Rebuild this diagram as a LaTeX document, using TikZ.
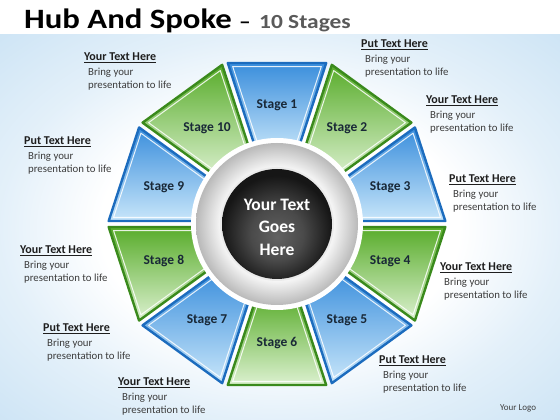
\documentclass[tikz,border=0pt]{standalone}
\usepackage{fontspec}
\setmainfont{Carlito}
\newfontfamily\titlefont[FakeStretch=1.17]{Carlito}
\definecolor{bT}{RGB}{58,142,220}
\definecolor{bB}{RGB}{200,230,250}
\definecolor{bD}{RGB}{28,108,190}
\definecolor{gT}{RGB}{88,172,42}
\definecolor{gB}{RGB}{220,241,208}
\definecolor{gD}{RGB}{58,138,28}
\definecolor{bgblue}{RGB}{205,228,245}
\definecolor{ringout}{RGB}{185,185,185}
\definecolor{hubedge}{RGB}{22,22,22}
\definecolor{hubmid}{RGB}{98,98,98}
\definecolor{labtxt}{RGB}{30,30,30}
\definecolor{bodytxt}{RGB}{60,60,60}
\definecolor{stagetxt}{RGB}{25,40,55}
\definecolor{titlegray}{RGB}{90,90,90}
\pgfdeclareradialshading{ringshade}{\pgfpoint{0bp}{0bp}}{color(0bp)=(white);color(16bp)=(white);color(18bp)=(white!95!black);color(25bp)=(ringout);color(50bp)=(ringout)}
\pgfdeclareradialshading{hubshade}{\pgfpoint{0bp}{-6bp}}{color(0bp)=(hubmid);color(12bp)=(hubmid!75!black);color(25bp)=(hubedge);color(50bp)=(hubedge)}
\pgfdeclareradialshading{bgshade}{\pgfpoint{0bp}{0bp}}{color(0bp)=(white);color(16bp)=(white);color(25bp)=(bgblue!55!white);color(36bp)=(bgblue);color(50bp)=(bgblue)}
\newcommand\lbl[4]{%
  \node[head] (#1h) at (#2,420-#3) {\underline{#4}};
  \node[body] (#1a) at (#2+4,420-#3-15) {Bring your};
  \node[body] (#1b) at (#2+4,420-#3-28) {presentation to life};}
\begin{document}
\begin{tikzpicture}[x=1pt,y=1pt,
  seg/.style={line width=2.4pt,line join=round},
  seginner/.style={draw=white,line width=1pt,line join=round,opacity=0.85},
  stagelbl/.style={font=\fontsize{13.5}{16}\selectfont\bfseries,text=stagetxt,inner sep=0pt},
  hubtxt/.style={font=\fontsize{17.5}{22.5}\selectfont\bfseries,text=white,align=center,inner sep=0pt},
  head/.style={font=\fontsize{12}{14}\selectfont\bfseries,text=labtxt,anchor=base west,inner sep=0pt},
  body/.style={font=\fontsize{10.8}{13}\selectfont,text=bodytxt,anchor=base west,inner sep=0pt},
  ttl/.style={anchor=base west,inner sep=0pt}]
\useasboundingbox (0,0) rectangle (560,420);
\fill[white] (0,0) rectangle (560,420);
\shade[shading=bgshade] (0,0) rectangle (560,385);
% title
\node[ttl,font=\titlefont\fontsize{28}{32}\selectfont\bfseries] (title) at (24,391.7) {Hub And Spoke};
\node[ttl,font=\titlefont\fontsize{20}{24}\selectfont\bfseries] (dash) at (239,391.7) {–};
\node[ttl,font=\titlefont\fontsize{20}{24}\selectfont\bfseries,text=titlegray] (sub) at (259,391.7) {10 Stages};
% wheel
\begin{scope}[shift={(277,196)}]
\foreach \i/\ct/\cb/\cd in {1/bT/bB/bD,2/gT/gB/gD,3/bT/bB/bD,4/gT/gB/gD,5/bT/bB/bD,6/gT/gB/gD,7/bT/bB/bD,8/gT/gB/gD,9/bT/bB/bD,10/gT/gB/gD}{
  \pgfmathsetmacro\a{90-36*(\i-1)}
  \shadedraw[seg,top color=\ct,bottom color=\cb,draw=\cd]
    (\a+16.99:168.35) -- (\a-16.99:168.35) -- (\a-15.64:72.69) -- (\a+15.64:72.69) -- cycle;
  \draw[seginner] (\a+15.72:163.6) -- (\a-15.72:163.6) -- (\a-13.05:75.45) -- (\a+13.05:75.45) -- cycle;
  \node[stagelbl] (s\i) at (\a:119) {Stage \i};
}
\fill[white] (0,0) circle (86);
\shade[shading=ringshade] (0,0) circle (81);
\fill[white!92!black] (0,0) circle (57);
\shade[shading=hubshade] (0,0) circle (55);
\node[hubtxt] (hub) at (0,-3) {Your Text\\Goes\\Here};
\end{scope}
% labels
\lbl{l1}{84}{61}{Your Text Here}
\lbl{l2}{361}{47.5}{Put Text Here}
\lbl{l3}{426}{103.5}{Your Text Here}
\lbl{l4}{449}{182.7}{Put Text Here}
\lbl{l5}{440}{271}{Your Text Here}
\lbl{l6}{379}{364}{Put Text Here}
\lbl{l7}{118}{385.5}{Your Text Here}
\lbl{l8}{43}{331.7}{Put Text Here}
\lbl{l9}{20}{254}{Your Text Here}
\lbl{l10}{24}{145}{Put Text Here}
\node[anchor=base west,inner sep=0pt,font=\fontsize{9}{11}\selectfont,text=bodytxt] (logo) at (500,9) {Your Logo};
\end{tikzpicture}
\end{document}
